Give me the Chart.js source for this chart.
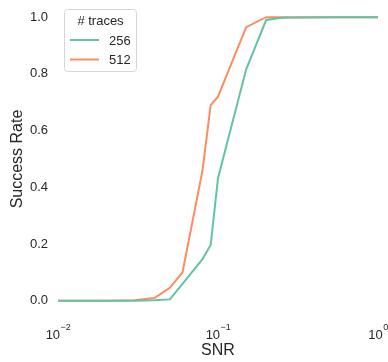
<!DOCTYPE html>
<html>
<head>
<meta charset="utf-8">
<script src="https://cdn.jsdelivr.net/npm/chart.js@4"></script>
<style>
  html, body { margin: 0; padding: 0; background: #fff; }
  #wrap { width: 388px; height: 362px; }
</style>
</head>
<body>
<div id="wrap"><canvas id="successChart" width="388" height="362"></canvas></div>
<script>
const snr = [0.01, 0.02, 0.03, 0.04, 0.05, 0.06, 0.08, 0.09, 0.1, 0.15, 0.2, 0.25, 0.5, 1.0];
const rate256 = [0, 0, 0, 0.002, 0.005, 0.06, 0.147, 0.197, 0.432, 0.816, 0.99, 0.998, 1.0, 1.0];
const rate512 = [0, 0, 0.002, 0.01, 0.046, 0.10, 0.46, 0.69, 0.72, 0.965, 1.0, 1.0, 1.0, 1.0];
const seriesNames = ["256", "512"];
const seriesColors = ["#66c2a5", "#fc8d62"];
const xTicks = [0.01, 0.1, 1];
const yTicks = [0.0, 0.2, 0.4, 0.6, 0.8, 1.0];

const FONT = "'Liberation Sans', Arial, sans-serif";
const TEXT = "#262626";

function toPoints(values) {
  return snr.map((s, i) => ({ x: s, y: values[i] }));
}

// axis text, titles and the legend are drawn by hand, matplotlib style
const decorations = {
  id: "decorations",
  afterDraw(chart) {
    const ctx = chart.ctx;
    const area = chart.chartArea;
    const xs = chart.scales.x;
    const ys = chart.scales.y;
    ctx.save();
    ctx.fillStyle = TEXT;

    // y tick labels
    ctx.font = "13px " + FONT;
    ctx.textAlign = "right";
    ctx.textBaseline = "middle";
    yTicks.forEach(v => {
      ctx.fillText(v.toFixed(1), area.left - 10, ys.getPixelForValue(v));
    });

    // x tick labels as 10 with a raised exponent
    xTicks.forEach(v => {
      const exp = Math.round(Math.log10(v));
      const base = "10";
      const sup = exp < 0 ? "\u2212" + Math.abs(exp) : String(exp);
      ctx.font = "13px " + FONT;
      const wb = ctx.measureText(base).width;
      ctx.font = "9px " + FONT;
      const ws = ctx.measureText(sup).width;
      const x0 = xs.getPixelForValue(v) - (wb + ws) / 2;
      ctx.textAlign = "left";
      ctx.textBaseline = "alphabetic";
      ctx.font = "13px " + FONT;
      ctx.fillText(base, x0, 339);
      ctx.font = "9px " + FONT;
      ctx.fillText(sup, x0 + wb + 0.5, 330);
    });

    // axis titles
    ctx.font = "16px " + FONT;
    ctx.textAlign = "center";
    ctx.textBaseline = "middle";
    ctx.fillText("SNR", (area.left + area.right) / 2, 351);
    ctx.save();
    ctx.translate(18, (area.top + area.bottom) / 2);
    ctx.rotate(-Math.PI / 2);
    ctx.fillText("Success Rate", 0, 0);
    ctx.restore();

    // legend box
    const bx = 64.5, by = 9.5, bw = 72, bh = 62, r = 3;
    ctx.beginPath();
    ctx.moveTo(bx + r, by);
    ctx.arcTo(bx + bw, by, bx + bw, by + bh, r);
    ctx.arcTo(bx + bw, by + bh, bx, by + bh, r);
    ctx.arcTo(bx, by + bh, bx, by, r);
    ctx.arcTo(bx, by, bx + bw, by, r);
    ctx.closePath();
    ctx.fillStyle = "rgba(255,255,255,0.8)";
    ctx.fill();
    ctx.strokeStyle = "#d6d6d6";
    ctx.lineWidth = 1;
    ctx.stroke();

    ctx.fillStyle = TEXT;
    ctx.font = "13px " + FONT;
    ctx.textAlign = "center";
    ctx.fillText("# traces", bx + bw / 2, 21);
    ctx.textAlign = "left";
    seriesNames.forEach((name, i) => {
      const ly = 40 + i * 19.5;
      ctx.strokeStyle = seriesColors[i];
      ctx.lineWidth = 2;
      ctx.beginPath();
      ctx.moveTo(70, ly);
      ctx.lineTo(99, ly);
      ctx.stroke();
      ctx.fillText(name, 109, ly + 1);
    });
    ctx.restore();
  }
};

new Chart(document.getElementById("successChart"), {
  type: "line",
  data: {
    datasets: [
      { label: seriesNames[0], data: toPoints(rate256), borderColor: seriesColors[0] },
      { label: seriesNames[1], data: toPoints(rate512), borderColor: seriesColors[1] },
    ],
  },
  options: {
    responsive: false,
    animation: false,
    layout: { padding: { top: 3, right: 10, left: 0, bottom: 0 } },
    elements: {
      line: { borderWidth: 2, tension: 0, fill: false },
      point: { radius: 0 },
    },
    plugins: { legend: { display: false }, tooltip: { enabled: false } },
    scales: {
      x: {
        type: "logarithmic",
        min: 0.01,
        max: 1,
        grid: { display: false },
        border: { display: false },
        ticks: { display: false },
        afterFit: scale => { scale.height = 47; },
      },
      y: {
        min: -0.05,
        max: 1.05,
        grid: { display: false },
        border: { display: false },
        ticks: { display: false },
        afterFit: scale => { scale.width = 58; },
      },
    },
  },
  plugins: [decorations],
});
</script>
</body>
</html>
